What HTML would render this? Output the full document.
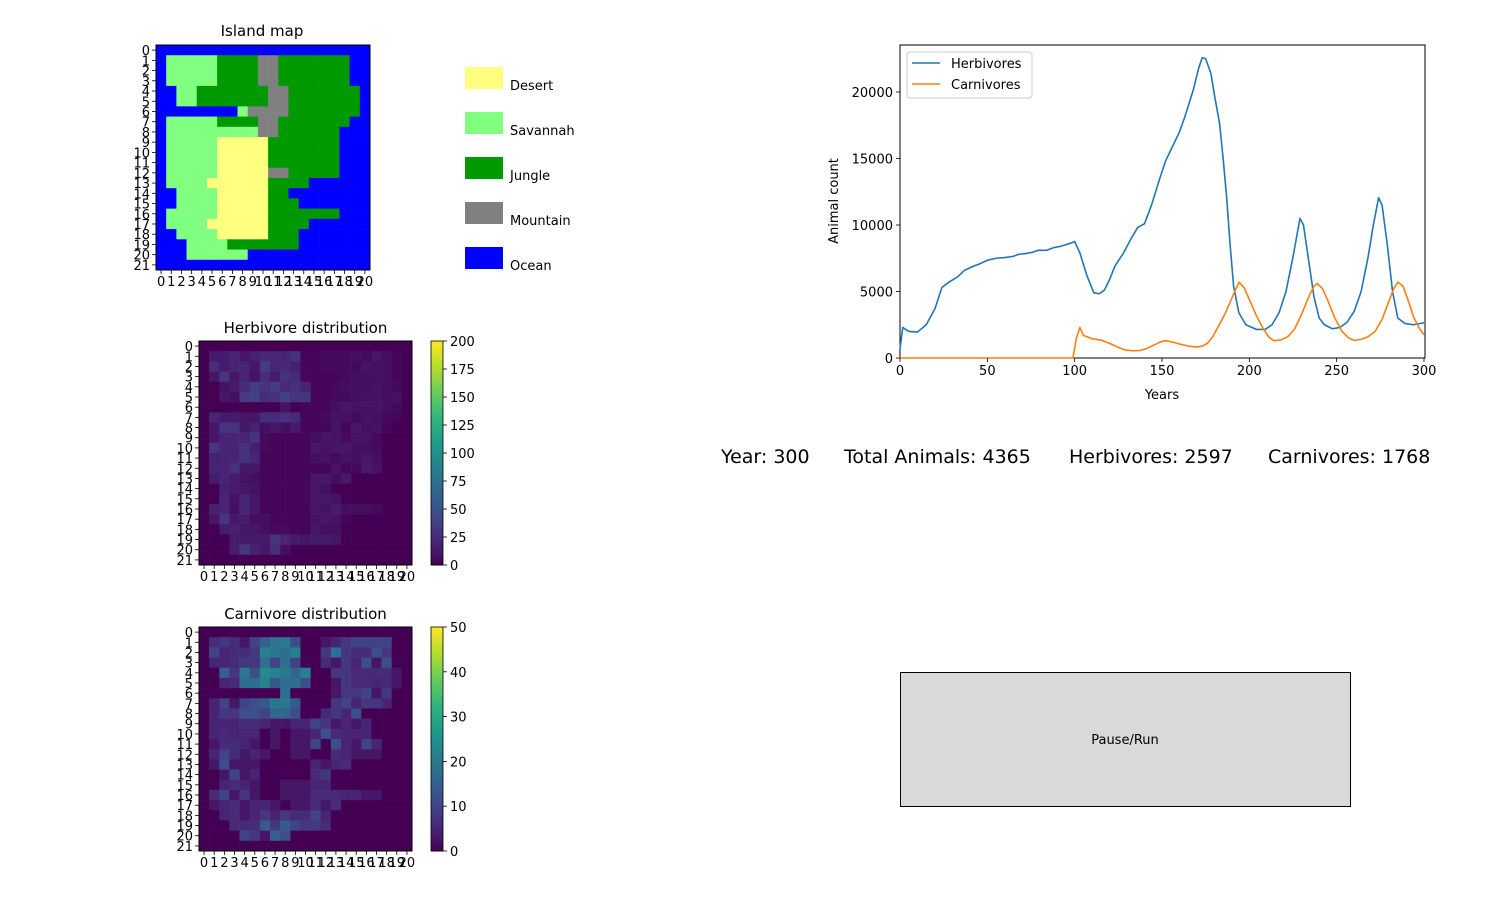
<!DOCTYPE html>
<html><head><meta charset="utf-8"><style>
body{margin:0;background:#fff;font-family:"Liberation Sans","DejaVu Sans",sans-serif;}
svg text{font-family:"DejaVu Sans","Liberation Sans",sans-serif;}
</style></head><body>
<svg id="root" width="1500" height="896" xmlns="http://www.w3.org/2000/svg"></svg>
<script>
const islandRows=["WWWWWWWWWWWWWWWWWWWWW","WLLLLLHHHHMMHHHHHHHWW","WLLLLLHHHHMMHHHHHHHWW","WLLLLLHHHHMMHHHHHHHWW","WWLLHHHHHHHMMHHHHHHHW","WWLLHHHHHHHMMHHHHHHHW","WWWWWWWWLMMMMHHHHHHHW","WLLLLLHHHHMMHHHHHHHWW","WLLLLLLLLLMMHHHHHHWWW","WLLLLLDDDDDHHHHHHHWWW","WLLLLLDDDDDHHHHHHHWWW","WLLLLLDDDDDHHHHHHHWWW","WLLLLLDDDDDMMHHHHHWWW","WLLLLDDDDDDHHHHWWWWWW","WWLLLLDDDDDHHWWWWWWWW","WWLLLLDDDDDHHHWWWWWWW","WLLLLLDDDDDHHHHHHHWWW","WLLLLDDDDDDHHHHWWWWWW","WWLLLLDDDDDHHHWWWWWWW","WWWLLLLHHHHHHHWWWWWWW","WWWLLLLLLWWWWWWWWWWWW","WWWWWWWWWWWWWWWWWWWWW"];
const Z=[0,0,0,0,0,0,0,0,0,0,0,0,0,0,0,0,0,0,0,0,0];
const herb=[Z,
[0,15,15,20,12,18,22,22,20,28,3,3,5,5,5,8,5,12,8,3,0],
[0,25,15,20,20,12,35,20,22,18,3,3,5,5,5,5,10,8,8,3,0],
[0,12,30,12,20,10,25,15,28,22,3,3,3,3,5,8,8,8,8,3,0],
[0,0,10,15,25,35,30,35,22,28,20,3,3,5,8,8,8,10,8,5,0],
[0,0,12,8,35,38,25,28,38,30,30,3,3,5,5,8,10,10,8,10,0],
[0,0,0,0,0,0,0,0,10,0,3,3,3,8,12,10,10,10,8,5,0],
[0,20,15,15,12,12,25,25,28,22,3,3,5,10,10,5,10,8,5,3,0],
[0,12,30,30,12,18,8,12,8,15,3,3,3,10,3,12,8,10,3,0,0],
[0,12,20,20,20,30,5,3,3,3,3,8,12,10,5,10,10,5,0,0,0],
[0,30,20,20,28,18,5,3,3,3,3,12,10,12,12,8,8,5,0,0,0],
[0,18,20,20,28,20,3,3,3,3,3,8,10,5,10,8,12,8,0,0,0],
[0,20,20,28,12,12,3,3,3,3,3,3,3,10,3,5,15,10,0,0,0],
[0,15,20,15,10,8,3,3,3,3,3,12,12,8,15,0,0,0,0,0,0],
[0,0,18,15,12,10,3,3,3,3,3,12,8,0,0,0,0,0,0,0,0],
[0,0,20,10,20,12,3,3,3,3,3,12,12,10,0,0,0,0,0,0,0],
[0,18,20,8,20,12,3,3,3,3,3,12,10,15,8,8,8,5,0,0,0],
[0,12,30,12,15,8,8,3,3,3,3,10,12,10,3,0,0,0,0,0,0],
[0,0,15,18,12,12,8,5,5,3,3,12,8,8,0,0,0,0,0,0,0],
[0,0,0,15,15,15,15,30,20,15,12,15,15,12,0,0,0,0,0,0,0],
[0,0,0,15,30,18,12,25,8,0,0,0,0,0,0,0,0,0,0,0,0],Z];
const carn=[Z,
[0,6,8,6,3,10,15,20,20,12,0,0,3,5,8,10,10,10,10,0,0],
[0,10,5,6,6,8,22,20,18,22,0,0,8,18,8,6,6,12,8,0,0],
[0,5,5,6,8,8,18,10,18,10,0,0,6,3,8,5,12,3,12,0,0],
[0,0,15,8,20,12,24,22,20,16,22,0,0,8,8,6,6,6,6,3,0],
[0,0,5,6,18,18,22,14,18,18,12,0,0,3,8,6,6,5,6,3,0],
[0,0,0,0,0,0,0,0,18,0,0,0,0,3,8,8,10,3,8,0,0],
[0,5,10,3,10,12,14,20,20,14,0,0,0,8,10,5,8,8,5,0,0],
[0,5,8,8,12,12,10,16,16,12,0,0,6,8,5,12,0,0,0,0,0],
[0,5,5,5,6,6,5,3,3,5,5,10,8,3,5,3,5,0,0,0,0],
[0,5,6,5,5,5,0,3,0,3,3,5,12,6,5,5,5,0,0,0,0],
[0,3,6,6,5,3,0,3,0,3,3,10,0,12,5,3,10,5,0,0,0],
[0,5,10,6,3,5,3,0,0,3,3,0,0,6,5,3,3,3,0,0,0],
[0,3,12,3,3,3,0,0,0,0,0,5,3,5,6,0,0,0,0,0,0],
[0,0,3,10,3,5,0,0,0,0,0,6,8,0,0,0,0,0,0,0,0],
[0,0,5,6,5,3,0,0,3,3,3,5,5,0,0,0,0,0,0,0,0],
[0,6,10,3,8,3,0,0,3,3,3,6,6,6,5,5,3,3,0,0,0],
[0,3,5,6,3,5,5,3,0,3,3,6,3,6,0,0,0,0,0,0,0],
[0,0,5,6,3,5,8,5,8,6,6,10,5,0,0,0,0,0,0,0,0],
[0,0,0,6,6,6,14,8,14,10,8,8,6,0,0,0,0,0,0,0,0],
[0,0,0,0,10,8,3,15,12,0,0,0,0,0,0,0,0,0,0,0,0],Z];
const herbYears=[0,1.6,5,10,15,20,24,28,33,37,42,46,50,55,60,65,68,72,76,79,84,88,92,97,100,103,107,111,114,117,120,123,128,132,136,140,144,148.5,152,156,160,163,168,171,173,175,178,180,183,185,187,189,191,194,198,204,209,213,217,221,225,229,231,234,237,240,243,247.5,252,256,260,264,268,271,274,276,279,282,285,289,294,300];
const herbVals=[700,2300,2000,1950,2500,3700,5300,5700,6100,6600,6900,7100,7350,7500,7550,7650,7800,7850,7950,8100,8100,8300,8400,8600,8750,7900,6200,4900,4830,5100,5900,6900,7900,8900,9800,10100,11500,13400,14800,15900,17000,18100,20200,21800,22575,22500,21400,19800,17600,15000,12100,8500,5400,3400,2500,2150,2150,2500,3400,5000,7600,10500,10000,7300,4600,3000,2500,2200,2300,2700,3500,5000,7600,10000,12050,11500,8500,5000,3000,2600,2500,2650];
const carnYears=[0,99,101,103,105,110,115,120,125,129,133,137,141,145,149,152,156,160,165,170,173,176,179,182,186,190,194,197,200,204,208,211,214,218,222,226,230,234,237,239,242,245,249,253,257,260,264,268,272,276,280,283,285,288,291,294,297,300];
const carnVals=[0,0,1500,2300,1700,1450,1350,1100,800,600,550,560,700,950,1200,1300,1200,1050,900,825,900,1100,1600,2300,3300,4500,5700,5300,4400,3200,2200,1600,1300,1350,1600,2200,3300,4600,5400,5600,5200,4300,3000,2000,1500,1325,1400,1600,2000,2900,4300,5300,5700,5400,4300,3100,2300,1750];
const xTicks=[0,50,100,150,200,250,300];
const yTicks=[0,5000,10000,15000,20000];
const herbCbTicks=[0,25,50,75,100,125,150,175,200];
const carnCbTicks=[0,10,20,30,40,50];
const terrainNames=["Desert","Savannah","Jungle","Mountain","Ocean"];
const terrainColors={D:"#ffff80",L:"#80ff80",H:"#009900",M:"#808080",W:"#0000ff"};
const terrainKeys=["D","L","H","M","W"];

const NS="http://www.w3.org/2000/svg";
const root=document.getElementById('root');
function el(tag,attrs,parent,txt){const e=document.createElementNS(NS,tag);for(const k in attrs)e.setAttribute(k,attrs[k]);if(txt!==undefined)e.textContent=txt;(parent||root).appendChild(e);return e;}
const VIR=[[68,1,84],[72,40,120],[62,74,137],[49,104,142],[38,130,142],[31,158,137],[53,183,121],[109,205,89],[180,222,44],[253,231,37]];
function viridis(t){t=Math.max(0,Math.min(1,t));const p=t*9,i=Math.min(8,Math.floor(p)),f=p-i;const a=VIR[i],b=VIR[i+1];return `rgb(${a.map((v,k)=>Math.round(v+(b[k]-v)*f)).join(',')})`;}

function gridAxes(g,x0,y0,w,h,nc,nr){
  const cw=w/nc,ch=h/nr;
  for(let c=0;c<nc;c++){const x=x0+(c+0.5)*cw;el('line',{x1:x,y1:y0+h,x2:x,y2:y0+h+4,stroke:'#000','stroke-width':0.8},g);
    const t=el('text',{x:x,y:y0+h+16,'font-size':13,'text-anchor':'middle'},g,String(c));}
  for(let r=0;r<nr;r++){const y=y0+(r+0.5)*ch;el('line',{x1:x0-4,y1:y,x2:x0,y2:y,stroke:'#000','stroke-width':0.8},g);
    const t=el('text',{x:x0-6,y:y+5,'font-size':13,'text-anchor':'end'},g,String(r));}
  el('rect',{x:x0,y:y0,width:w,height:h,fill:'none',stroke:'#000','stroke-width':1},g);
}

(function(){
  const g=el('g',{});
  const x0=156,y0=45,w=214,h=225,nc=21,nr=22;
  islandRows.forEach((row,r)=>{[...row].forEach((k,c)=>{const rc=el('rect',{x:x0+c*w/nc,y:y0+r*h/nr,width:w/nc+0.3,height:h/nr+0.3,fill:terrainColors[k]},g);});});
  gridAxes(g,x0,y0,w,h,nc,nr);
  const t=el('text',{x:262,y:36,'font-size':15,'text-anchor':'middle'},g,'Island map');
  terrainKeys.forEach((k,i)=>{const y=67+i*45;const s=el('rect',{x:465,y:y,width:38,height:22,fill:terrainColors[k]},g);
    const tt=el('text',{x:510,y:y+23,'font-size':13},g,terrainNames[i]);});
})();

function heatmap(name,title,data,vmax,ticks,y0){
  const g=el('g',{});
  const x0=199,w=213,h=224,nc=21,nr=22;
  data.forEach((row,r)=>row.forEach((v,c)=>{const rc=el('rect',{x:x0+c*w/nc,y:y0+r*h/nr,width:w/nc+0.3,height:h/nr+0.3,fill:viridis(v/vmax)},g);}));
  gridAxes(g,x0,y0,w,h,nc,nr);
  const t=el('text',{x:305.5,y:y0-8,'font-size':15,'text-anchor':'middle'},g,title);
  const cbx=431,cbw=12;
  const cb=el('g',{},g);
  for(let i=0;i<100;i++){el('rect',{x:cbx,y:y0+h-(i+1)*h/100,width:cbw,height:h/100+0.5,fill:viridis((i+0.5)/100)},cb);}
  el('rect',{x:cbx,y:y0,width:cbw,height:h,fill:'none',stroke:'#000','stroke-width':0.8},cb);
  ticks.forEach(v=>{const y=y0+h-v/vmax*h;el('line',{x1:cbx+cbw,y1:y,x2:cbx+cbw+4,y2:y,stroke:'#000','stroke-width':0.8},cb);
    const tt=el('text',{x:cbx+cbw+7,y:y+5,'font-size':13},cb,String(v));});
}
heatmap('herbivore-distribution','Herbivore distribution',herb,200,herbCbTicks,341);
heatmap('carnivore-distribution','Carnivore distribution',carn,50,carnCbTicks,627);

(function(){
  const g=el('g',{});
  const L=900,R=1425,T=45,B=358,ymax=23534;
  const sx=v=>L+v/300*(R-1-L), sy=v=>B-v/ymax*(B-T);
  el('rect',{x:L,y:T,width:R-L,height:B-T,fill:'#fff',stroke:'#000','stroke-width':1},g);
  function line(xs,ys,col,name){const p=el('polyline',{points:xs.map((x,i)=>sx(x)+','+sy(ys[i])).join(' '),fill:'none',stroke:col,'stroke-width':1.6,'stroke-linejoin':'round'},g);}
  line(herbYears,herbVals,'#1f77b4','herbivores-line');
  line(carnYears,carnVals,'#ff7f0e','carnivores-line');
  xTicks.forEach(v=>{const x=sx(v);el('line',{x1:x,y1:B,x2:x,y2:B+4,stroke:'#000','stroke-width':0.8},g);const t=el('text',{x:x,y:B+17,'font-size':13,'text-anchor':'middle'},g,String(v));});
  yTicks.forEach(v=>{const y=sy(v);el('line',{x1:L-4,y1:y,x2:L,y2:y,stroke:'#000','stroke-width':0.8},g);const t=el('text',{x:L-7,y:y+5,'font-size':13,'text-anchor':'end'},g,String(v));});
  const xt=el('text',{x:1162,y:399,'font-size':13,'text-anchor':'middle'},g,'Years');
  const yt=el('text',{x:838,y:201,'font-size':13,'text-anchor':'middle',transform:'rotate(-90 838 201)'},g,'Animal count');
  const lg=el('g',{},g);
  el('rect',{x:907,y:52,width:125,height:46,rx:3,fill:'#fff',stroke:'#ccc'},lg);
  [['Herbivores','#1f77b4'],['Carnivores','#ff7f0e']].forEach((d,i)=>{const y=63+i*21;el('line',{x1:912,y1:y,x2:940,y2:y,stroke:d[1],'stroke-width':1.6},lg);const t=el('text',{x:951,y:y+5,'font-size':13},lg,d[0]);});
})();

const sg=el('g',{});
[['Year: 300',721],['Total Animals: 4365',844],['Herbivores: 2597',1069],['Carnivores: 1768',1268]].forEach(d=>{
  const t=el('text',{x:d[1],y:463,'font-size':19},sg,d[0]);
  
  
});
const bg=el('g',{});
el('rect',{x:900.5,y:672.5,width:450,height:134,fill:'#d9d9d9',stroke:'#000','stroke-width':1},bg);
const bt=el('text',{x:1125,y:744,'font-size':13,'text-anchor':'middle'},bg,'Pause/Run');
</script>
</body></html>
